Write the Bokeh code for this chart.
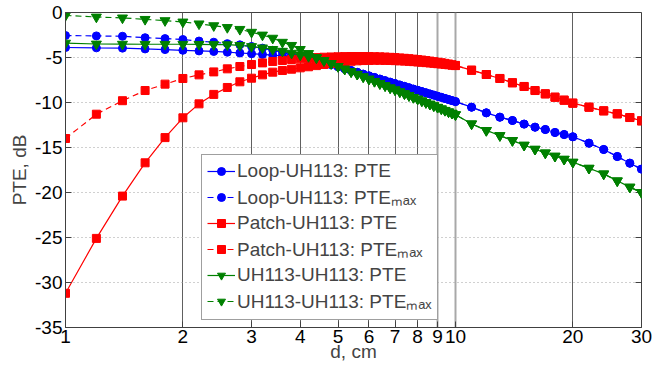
from bokeh.plotting import figure
from bokeh.models import Range1d, FixedTicker, Legend, LegendItem, Grid
from bokeh.embed import file_html
from bokeh.resources import INLINE

# distance, cm
d = [1.0, 1.2, 1.4, 1.6, 1.8, 2.0, 2.2, 2.4, 2.6, 2.8,
     3.0, 3.2, 3.4, 3.6, 3.8, 4.0, 4.2, 4.4, 4.6, 4.8,
     5.0, 5.2, 5.4, 5.6, 5.8, 6.0, 6.2, 6.4, 6.6, 6.8,
     7.0, 7.2, 7.4, 7.6, 7.8, 8.0, 8.2, 8.4, 8.6, 8.8,
     9.0, 9.2, 9.4, 9.6, 9.8, 10.0,
     11, 12, 13, 14, 15, 16, 17, 18, 19, 20, 22, 24, 26, 28, 30]

loop_pte = [-3.89, -3.93, -3.96, -4.05, -4.12, -4.20, -4.27, -4.33, -4.41, -4.50,
            -4.58, -4.66, -4.74, -4.83, -4.92, -5.03, -5.14, -5.30, -5.55, -5.79,
            -6.02, -6.24, -6.45, -6.65, -6.85, -7.04, -7.22, -7.40, -7.57, -7.74,
            -7.90, -8.06, -8.21, -8.36, -8.51, -8.65, -8.79, -8.92, -9.05, -9.18,
            -9.31, -9.43, -9.55, -9.67, -9.79, -9.90,
            -10.52, -11.15, -11.63, -12.00, -12.40, -12.74, -13.00, -13.33, -13.56, -13.81,
            -14.52, -15.22, -16.00, -16.74, -17.40]
loop_ptemax = [-2.56, -2.60, -2.64, -2.80, -2.90, -3.00, -3.17, -3.30, -3.46, -3.59,
               -3.77, -3.96, -4.20, -4.42, -4.72, -4.97, -5.12, -5.30, -5.55, -5.79,
               -6.02, -6.24, -6.45, -6.65, -6.85, -7.04, -7.22, -7.40, -7.57, -7.74,
               -7.90, -8.06, -8.21, -8.36, -8.51, -8.65, -8.79, -8.92, -9.05, -9.18,
               -9.31, -9.43, -9.55, -9.67, -9.79, -9.90,
               -10.52, -11.15, -11.63, -12.00, -12.40, -12.74, -13.00, -13.33, -13.56, -13.81,
               -14.52, -15.22, -16.00, -16.74, -17.40]
patch_pte = [-31.2, -25.1, -20.4, -16.7, -13.9, -11.7, -10.15, -9.10, -8.33, -7.70,
             -7.30, -6.93, -6.63, -6.44, -6.30, -6.15, -6.03, -5.90, -5.78, -5.66,
             -5.56, -5.48, -5.42, -5.37, -5.34, -5.32, -5.31, -5.31, -5.32, -5.33,
             -5.35, -5.37, -5.40, -5.43, -5.46, -5.50, -5.53, -5.57, -5.61, -5.65,
             -5.69, -5.73, -5.77, -5.81, -5.86, -5.90,
             -6.41, -6.89, -7.33, -7.81, -8.22, -8.67, -9.04, -9.41, -9.74, -10.07,
             -10.52, -10.93, -11.26, -11.67, -12.04]
patch_ptemax = [-14.0, -11.3, -9.80, -8.67, -7.96, -7.33, -6.93, -6.60, -6.26, -6.00,
                -5.78, -5.60, -5.44, -5.33, -5.22, -5.15, -5.07, -5.01, -4.97, -4.94,
                -4.92, -4.90, -4.89, -4.89, -4.89, -4.90, -4.91, -4.93, -4.95, -4.98,
                -5.01, -5.05, -5.09, -5.13, -5.18, -5.23, -5.28, -5.34, -5.40, -5.46,
                -5.52, -5.58, -5.65, -5.72, -5.80, -5.88,
                -6.41, -6.89, -7.33, -7.81, -8.22, -8.67, -9.04, -9.41, -9.74, -10.07,
                -10.52, -10.93, -11.26, -11.67, -12.04]
uh_pte = [-3.40, -3.50, -3.52, -3.53, -3.53, -3.53, -3.54, -3.56, -3.58, -3.65,
          -3.78, -3.93, -4.10, -4.30, -4.52, -4.72, -4.88, -5.04, -5.34, -5.67,
          -5.99, -6.29, -6.58, -6.86, -7.14, -7.40, -7.65, -7.90, -8.13, -8.37,
          -8.59, -8.81, -9.02, -9.23, -9.43, -9.62, -9.81, -10.00, -10.18, -10.36,
          -10.53, -10.70, -10.87, -11.03, -11.19, -11.35,
          -12.37, -13.10, -13.67, -14.22, -14.74, -15.19, -15.60, -15.96, -16.30, -16.63,
          -17.30, -17.93, -18.70, -19.40, -20.00]
uh_ptemax = [-0.33, -0.50, -0.60, -0.76, -0.90, -1.05, -1.26, -1.46, -1.66, -1.87,
             -2.19, -2.50, -2.85, -3.30, -3.65, -4.10, -4.55, -5.00, -5.34, -5.67,
             -5.99, -6.29, -6.58, -6.86, -7.14, -7.40, -7.65, -7.90, -8.13, -8.37,
             -8.59, -8.81, -9.02, -9.23, -9.43, -9.62, -9.81, -10.00, -10.18, -10.36,
             -10.53, -10.70, -10.87, -11.03, -11.19, -11.35,
             -12.37, -13.10, -13.67, -14.22, -14.74, -15.19, -15.60, -15.96, -16.30, -16.63,
             -17.30, -17.93, -18.70, -19.40, -20.00]

x_ticks = [1, 2, 3, 4, 5, 6, 7, 8, 9, 10, 20, 30]
y_ticks = [-35, -30, -25, -20, -15, -10, -5, 0]
x_min, x_max = 1, 30
y_min, y_max = -35, 0

FONT = "Liberation Sans"
AX = "#404040"

p = figure(width=665, height=367, x_axis_type="log", output_backend="svg",
           toolbar_location=None, x_range=Range1d(x_min, x_max), y_range=Range1d(y_min, y_max),
           min_border_left=65, min_border_right=24, min_border_top=12, min_border_bottom=40)
p.outline_line_color = AX
p.background_fill_color = "white"

xt = FixedTicker(ticks=x_ticks, minor_ticks=[])
yt = FixedTicker(ticks=y_ticks, minor_ticks=[])

xa = p.xaxis[0]
ya = p.yaxis[0]
xa.ticker = xt
xa.major_label_overrides = {t: str(t) for t in x_ticks}
xa.axis_label = "d, cm"
xa.axis_label_standoff = -5
ya.ticker = yt
ya.major_label_overrides = {t: str(t) for t in y_ticks}
ya.axis_label = "PTE, dB"
ya.axis_label_standoff = 2
for ax in (xa, ya):
    ax.axis_label_text_font = FONT
    ax.axis_label_text_font_size = "19px"
    ax.axis_label_text_font_style = "normal"
    ax.major_tick_in = 6
    ax.major_tick_out = 0
    ax.minor_tick_line_color = None
    ax.axis_line_color = AX
    ax.major_tick_line_color = AX
    ax.major_label_text_font = FONT
    ax.major_label_text_font_size = "19px"
    ax.major_label_text_color = "black"
xa.major_label_standoff = 2
ya.major_label_standoff = 3

# grids
p.xgrid.ticker = FixedTicker(ticks=[2, 3, 4, 5, 6, 7, 8, 20])
p.xgrid.grid_line_color = "#606060"
p.xgrid.grid_line_width = 1
g2 = Grid(dimension=0, ticker=FixedTicker(ticks=[9, 10]), grid_line_color="#a8a8a8",
          grid_line_width=2)
p.add_layout(g2)
p.ygrid.ticker = FixedTicker(ticks=[-30, -25, -20, -15, -10, -5])
p.ygrid.grid_line_color = "#a0a0a0"
p.ygrid.grid_line_dash = "1 3"
p.ygrid.grid_line_width = 1

# inward ticks on the right edge of the box (half of each dash is clipped by the frame)
p.scatter([x_max] * len(y_ticks), y_ticks, marker="dash", size=12, line_color=AX,
          line_width=1)

series = [
    ("Loop-UH113: PTE", loop_pte, "#0000ff", "circle", "solid", 8),
    ("Loop-UH113: PTE\u2098\u2090\u2093", loop_ptemax, "#0000ff", "circle", "6 4", 8),
    ("Patch-UH113: PTE", patch_pte, "#ff0000", "square", "solid", 8),
    ("Patch-UH113: PTE\u2098\u2090\u2093", patch_ptemax, "#ff0000", "square", "6 4", 8),
    ("UH113-UH113: PTE", uh_pte, "#008000", "inverted_triangle", "solid", 10),
    ("UH113-UH113: PTE\u2098\u2090\u2093", uh_ptemax, "#008000", "inverted_triangle", "6 4", 10),
]
items = []
for label, vals, col, mk, dash, sz in series:
    ln = p.line(d, vals, line_color=col, line_width=1.2, line_dash=dash)
    sc = p.scatter(d, vals, marker=mk, size=sz, fill_color=col, line_color=col)
    items.append(LegendItem(label=label, renderers=[ln, sc]))

leg = Legend(items=items, location=(136, 7), label_text_font=FONT,
             label_text_font_size="19px", label_height=20, glyph_height=20,
             glyph_width=28, label_standoff=2, spacing=2, padding=5, margin=0,
             border_line_color=AX, border_line_width=1, background_fill_alpha=1)
p.add_layout(leg)

open("out.html", "w").write(file_html(p, INLINE))
